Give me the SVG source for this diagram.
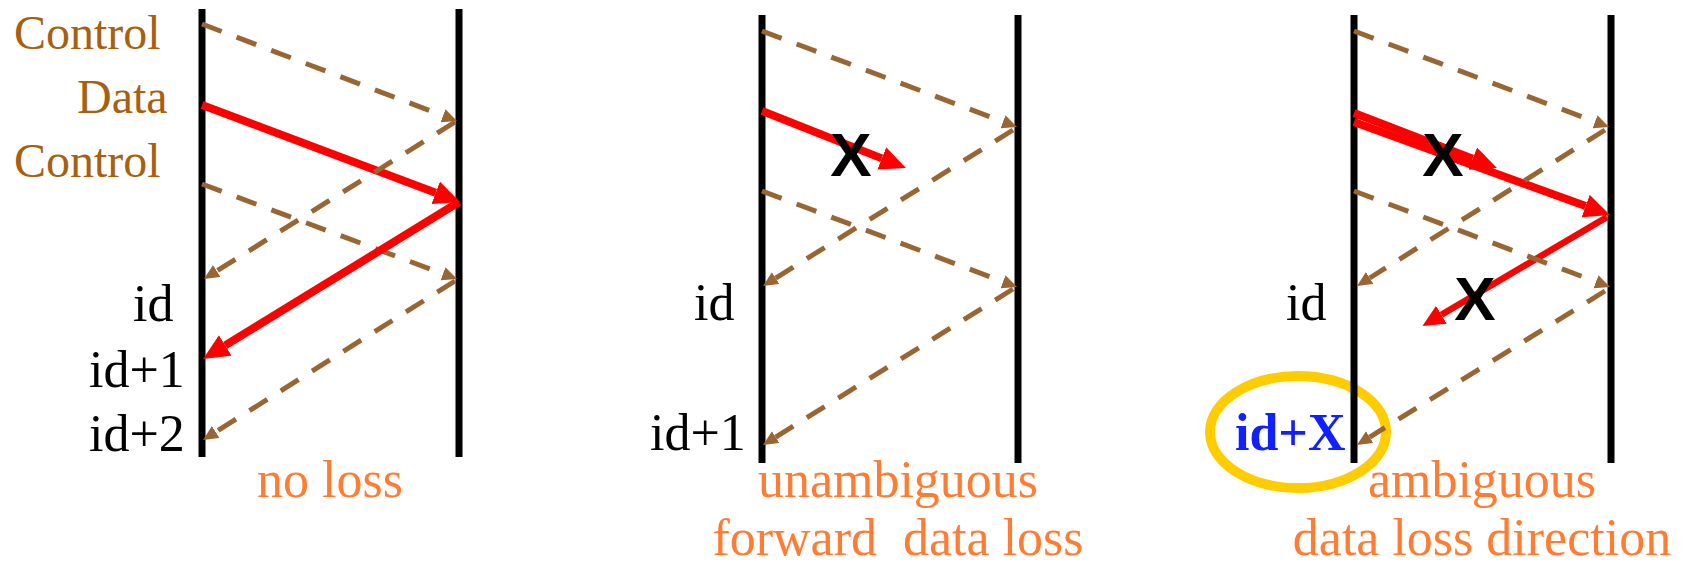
<svg xmlns="http://www.w3.org/2000/svg" width="1686" height="566" viewBox="0 0 1686 566">
<style>
.life{stroke:#000;stroke-width:7;fill:none}
.ctl{stroke:#996633;stroke-width:5;stroke-dasharray:21 16;fill:none;marker-end:url(#ab)}
.dat{stroke:#FF0000;stroke-width:8;fill:none;marker-end:url(#ar)}
.dats{stroke:#FF0000;stroke-width:6.5;fill:none;marker-end:url(#ars)}
.lbl{font-family:"Liberation Serif","Times New Roman",serif;font-size:48px;fill:#A6600F}
.id{font-family:"Liberation Serif","Times New Roman",serif;font-size:52px;fill:#000}
.cap{font-family:"Liberation Serif","Times New Roman",serif;font-size:52px;fill:#FF7C33;text-anchor:middle;white-space:pre}
.x{font-family:"Liberation Sans",Arial,sans-serif;font-weight:bold;font-size:62px;fill:#000;text-anchor:middle}
</style>
<defs>
<marker id="ab" markerUnits="userSpaceOnUse" markerWidth="15" markerHeight="14" refX="0" refY="7" orient="auto" viewBox="0 0 15 14"><path d="M0,0 L15,7 L0,14 z" fill="#996633"/></marker>
<marker id="ar" markerUnits="userSpaceOnUse" markerWidth="26" markerHeight="24" refX="0" refY="12" orient="auto" viewBox="0 0 26 24"><path d="M0,0 L26,12 L0,24 z" fill="#FF0000"/></marker>
<marker id="ars" markerUnits="userSpaceOnUse" markerWidth="22" markerHeight="21" refX="0" refY="10.5" orient="auto" viewBox="0 0 22 21"><path d="M0,0 L22,10.5 L0,21 z" fill="#FF0000"/></marker>
</defs>
<rect width="1686" height="566" fill="#fff"/>

<g id="panel-no-loss">
<text class="lbl" x="14" y="49">Control</text>
<text class="lbl" x="77" y="113">Data</text>
<text class="lbl" x="14" y="177">Control</text>
<text class="id" x="133" y="321">id</text>
<text class="id" x="89" y="387">id+1</text>
<text class="id" x="89" y="451">id+2</text>
<text class="cap" x="330" y="497">no loss</text>
</g>

<g id="panel-unambiguous">
<text class="id" x="694" y="320">id</text>
<text class="id" x="650" y="450">id+1</text>
<text class="cap" x="898" y="497">unambiguous</text>
<text class="cap" x="898" y="555">forward  data loss</text>
</g>

<g id="panel-ambiguous">
<ellipse cx="1298" cy="432" rx="88" ry="56" fill="none" stroke="#FFCC00" stroke-width="10"/>
<text class="id" x="1286" y="320">id</text>
<text x="1235" y="450" style="font-family:'Liberation Serif','Times New Roman',serif;font-size:52px;font-weight:bold;fill:#1020FF">id+X</text>
<text class="cap" x="1482" y="497">ambiguous</text>
<text class="cap" x="1482" y="555">data loss direction</text>
</g>

<g id="lifelines">
<line class="life" x1="202" y1="9" x2="202" y2="457"/>
<line class="life" x1="459" y1="9" x2="459" y2="457"/>
<line class="life" x1="762" y1="15" x2="762" y2="463"/>
<line class="life" x1="1018" y1="15" x2="1018" y2="463"/>
<line class="life" x1="1354" y1="15" x2="1354" y2="463"/>
<line class="life" x1="1611" y1="15" x2="1611" y2="463"/>
</g>

<g id="connectors">
<line class="ctl" x1="202" y1="24" x2="443" y2="115.7"/>
<line class="dat" x1="202" y1="105" x2="435.7" y2="192.8"/>
<line class="ctl" x1="455" y1="122" x2="216.7" y2="271"/>
<line class="ctl" x1="202" y1="184" x2="443" y2="273.8"/>
<line class="dat" x1="459" y1="202" x2="225.2" y2="345.4"/>
<line class="ctl" x1="455" y1="281" x2="215.7" y2="432"/>

<line class="ctl" x1="762" y1="31" x2="1003" y2="121.7"/>
<line class="dat" x1="762" y1="111" x2="881.8" y2="158.4"/>
<line class="ctl" x1="1013" y1="130" x2="775.7" y2="278.1"/>
<line class="ctl" x1="762" y1="191" x2="1003" y2="281.7"/>
<line class="ctl" x1="1013" y1="289" x2="775.7" y2="437.1"/>

<line class="ctl" x1="1354" y1="31" x2="1595" y2="121.7"/>
<line class="dat" x1="1354" y1="113" x2="1472.7" y2="158.7"/>
<line class="dat" x1="1354" y1="122" x2="1585.6" y2="206.1"/>
<line class="dats" x1="1607" y1="217" x2="1441.4" y2="314.8"/>
<line class="ctl" x1="1605" y1="130" x2="1369.7" y2="278"/>
<line class="ctl" x1="1354" y1="191" x2="1596" y2="281.7"/>
<line class="ctl" x1="1605" y1="291" x2="1369.7" y2="437.1"/>
</g>

<g id="loss-marks">
<text class="x" x="851" y="176">X</text>
<text class="x" x="1443" y="176">X</text>
<text class="x" x="1475" y="320">X</text>
</g>
</svg>
